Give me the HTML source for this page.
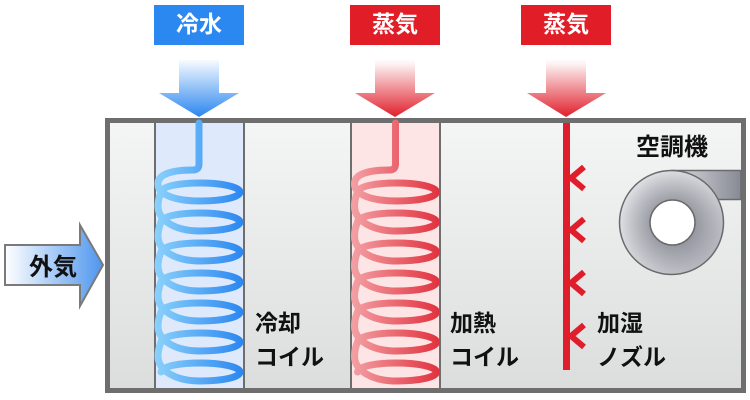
<!DOCTYPE html>
<html>
<head>
<meta charset="utf-8">
<style>
html,body{margin:0;padding:0;background:#fff;}
svg{display:block;}
text{font-family:"Liberation Sans","Noto Sans CJK JP",sans-serif;font-weight:bold;}
</style>
</head>
<body>
<svg width="750" height="400" viewBox="0 0 750 400" xmlns="http://www.w3.org/2000/svg">
<defs>
  <linearGradient id="bg" x1="0" y1="123" x2="0" y2="388" gradientUnits="userSpaceOnUse">
    <stop offset="0" stop-color="#f4f5f5"/>
    <stop offset="1" stop-color="#dcdddd"/>
  </linearGradient>
  <linearGradient id="bArrow" x1="0" y1="58" x2="0" y2="117" gradientUnits="userSpaceOnUse">
    <stop offset="0" stop-color="#ffffff"/>
    <stop offset="1" stop-color="#2a86f0"/>
  </linearGradient>
  <linearGradient id="rArrow" x1="0" y1="58" x2="0" y2="117" gradientUnits="userSpaceOnUse">
    <stop offset="0" stop-color="#ffffff"/>
    <stop offset="0.1" stop-color="#fdf2f3"/>
    <stop offset="1" stop-color="#e01f2b"/>
  </linearGradient>
  <linearGradient id="airArrow" x1="5" y1="0" x2="104" y2="0" gradientUnits="userSpaceOnUse">
    <stop offset="0" stop-color="#ffffff"/>
    <stop offset="1" stop-color="#4d95ee"/>
  </linearGradient>
  <linearGradient id="bCoil" x1="155" y1="0" x2="244" y2="0" gradientUnits="userSpaceOnUse">
    <stop offset="0" stop-color="#8ad1fb"/>
    <stop offset="1" stop-color="#2a86f0"/>
  </linearGradient>
  <linearGradient id="rCoil" x1="155" y1="0" x2="244" y2="0" gradientUnits="userSpaceOnUse">
    <stop offset="0" stop-color="#f3a1a5"/>
    <stop offset="1" stop-color="#e1303d"/>
  </linearGradient>
  <linearGradient id="duct" x1="672" y1="0" x2="741" y2="0" gradientUnits="userSpaceOnUse">
    <stop offset="0" stop-color="#dcdde2"/>
    <stop offset="1" stop-color="#878994"/>
  </linearGradient>
  <radialGradient id="fanR" cx="672" cy="222" r="52" gradientUnits="userSpaceOnUse">
    <stop offset="0.42" stop-color="#8e909a"/>
    <stop offset="1" stop-color="#dcdde2"/>
  </radialGradient>
  <linearGradient id="fanL" x1="630" y1="180" x2="715" y2="265" gradientUnits="userSpaceOnUse">
    <stop offset="0" stop-color="#ffffff" stop-opacity="0.15"/>
    <stop offset="1" stop-color="#6e707a" stop-opacity="0.4"/>
  </linearGradient>
</defs>

<!-- headers -->
<rect x="154" y="5" width="90" height="40" fill="#2a88f0"/>
<text x="199" y="32" font-size="23" fill="#ffffff" text-anchor="middle">冷水</text>
<rect x="350" y="5" width="90" height="40" fill="#e11d27"/>
<text x="395" y="32" font-size="23" fill="#ffffff" text-anchor="middle">蒸気</text>
<rect x="521" y="5" width="90" height="40" fill="#e11d27"/>
<text x="566" y="32" font-size="23" fill="#ffffff" text-anchor="middle">蒸気</text>

<!-- down arrows -->
<polygon points="179,60 219,60 219,93 239,93 199,117 159,93 179,93" fill="url(#bArrow)"/>
<polygon points="375,60 415,60 415,93 435,93 395,117 355,93 375,93" fill="url(#rArrow)"/>
<polygon points="546,60 586,60 586,93 606,93 566,117 527,93 546,93" fill="url(#rArrow)"/>

<!-- main box -->
<rect x="107.5" y="120.5" width="636" height="270" fill="url(#bg)" stroke="#6e6e6e" stroke-width="5"/>

<!-- columns -->
<rect x="155" y="123" width="89" height="265" fill="#dfe9fc"/>
<rect x="351" y="123" width="89" height="265" fill="#fde4e5"/>
<line x1="155" y1="123" x2="155" y2="388" stroke="#6e6e6e" stroke-width="2"/>
<line x1="244" y1="123" x2="244" y2="388" stroke="#6e6e6e" stroke-width="2"/>
<line x1="351" y1="123" x2="351" y2="388" stroke="#6e6e6e" stroke-width="2"/>
<line x1="440" y1="123" x2="440" y2="388" stroke="#6e6e6e" stroke-width="2"/>

<!-- coils -->
<g fill="none" stroke-width="7" stroke-linecap="round" stroke-linejoin="round">
<path stroke="url(#bCoil)" d="M199,123 V164 Q199,170 193,170 C172,170 158,174 158,184 C158,195 176,201 200,201 C224,201 240,197 240,192
C240,187 222,183 200,183 C180,183 162,186 161,192 C159,197 158,201 158,206 C158,221 176,231 200,231 C224,231 240,227 240,222
C240,217 222,213 200,213 C180,213 162,216 161,222 C159,227 158,231 158,236 C158,251 176,261 200,261 C224,261 240,257 240,252
C240,247 222,243 200,243 C180,243 162,246 161,252 C159,257 158,261 158,266 C158,281 176,291 200,291 C224,291 240,287 240,282
C240,277 222,273 200,273 C180,273 162,276 161,282 C159,287 158,291 158,296 C158,311 176,321 200,321 C224,321 240,317 240,312
C240,307 222,303 200,303 C180,303 162,306 161,312 C159,317 158,321 158,326 C158,341 176,351 200,351 C224,351 240,347 240,342
C240,337 222,333 200,333 C180,333 162,336 161,342 C159,347 158,351 158,356 C158,371 176,381 200,381 C224,381 240,377 240,372
C240,367 222,363 200,363 C180,363 162,366 161,372"/>
<path transform="translate(196.5,0)" stroke="url(#rCoil)" d="M199,123 V164 Q199,170 193,170 C172,170 158,174 158,184 C158,195 176,201 200,201 C224,201 240,197 240,192
C240,187 222,183 200,183 C180,183 162,186 161,192 C159,197 158,201 158,206 C158,221 176,231 200,231 C224,231 240,227 240,222
C240,217 222,213 200,213 C180,213 162,216 161,222 C159,227 158,231 158,236 C158,251 176,261 200,261 C224,261 240,257 240,252
C240,247 222,243 200,243 C180,243 162,246 161,252 C159,257 158,261 158,266 C158,281 176,291 200,291 C224,291 240,287 240,282
C240,277 222,273 200,273 C180,273 162,276 161,282 C159,287 158,291 158,296 C158,311 176,321 200,321 C224,321 240,317 240,312
C240,307 222,303 200,303 C180,303 162,306 161,312 C159,317 158,321 158,326 C158,341 176,351 200,351 C224,351 240,347 240,342
C240,337 222,333 200,333 C180,333 162,336 161,342 C159,347 158,351 158,356 C158,371 176,381 200,381 C224,381 240,377 240,372
C240,367 222,363 200,363 C180,363 162,366 161,372"/>
</g>

<!-- humidifier nozzle -->
<rect x="563" y="123" width="7" height="247" fill="#e01e2b"/>
<g fill="none" stroke="#e01e2b" stroke-width="6" stroke-linejoin="miter">
  <polyline points="584,167 571,178 584,189"/>
  <polyline points="584,219 571,230 584,241"/>
  <polyline points="584,272 571,283 584,294"/>
  <polyline points="584,325 571,336 584,347"/>
</g>

<!-- fan -->
<rect x="672" y="170.5" width="69" height="29" fill="url(#duct)" stroke="#6a6a6a" stroke-width="1.5"/>
<circle cx="671.5" cy="222.5" r="52" fill="url(#fanR)"/>
<circle cx="671.5" cy="222.5" r="52" fill="url(#fanL)" stroke="#6a6a6a" stroke-width="1.5"/>
<circle cx="672.5" cy="222.5" r="22.5" fill="#ffffff" stroke="#6a6a6a" stroke-width="1.5"/>

<!-- outside air arrow -->
<polygon points="5,245 80,245 80,225 103,265 80,306 80,285 5,285" fill="url(#airArrow)" stroke="#7a7a7a" stroke-width="2" stroke-linejoin="miter"/>
<text x="29" y="275" font-size="24" fill="#111">外気</text>

<!-- labels -->
<text x="636" y="155" font-size="24" fill="#111">空調機</text>
<text x="255" y="331" font-size="23" fill="#111">冷却</text>
<text x="255" y="365" font-size="23" fill="#111">コイル</text>
<text x="450" y="331" font-size="23" fill="#111">加熱</text>
<text x="450" y="365" font-size="23" fill="#111">コイル</text>
<text x="597" y="331" font-size="23" fill="#111">加湿</text>
<text x="597" y="365" font-size="23" fill="#111">ノズル</text>
</svg>
</body>
</html>
